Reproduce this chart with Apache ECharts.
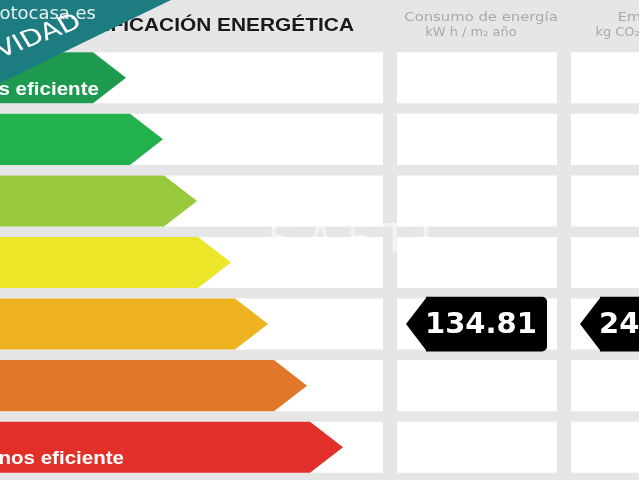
<!DOCTYPE html>
<html><head><meta charset="utf-8">
<script src="https://cdn.jsdelivr.net/npm/echarts@6/dist/echarts.min.js"></script>
<style>html,body{margin:0;padding:0;background:#e6e6e6}#c{width:639px;height:480px}</style>
</head><body><div id="c"></div>
<script>
// ---- data ----
const classes = ['A','B','C','D','E','F','G'];
const barLengths = [126, 163, 197, 231, 268, 307, 343];
const classLabels = ['Más eficiente','','','','','','Menos eficiente'];
const headerTitle = 'CALIFICACIÓN ENERGÉTICA';
const columnTitles = ['Consumo de energía', 'Emisiones'];
const columnUnits = ['kW h / m₂ año', 'kg CO₂ / m² año'];
const ratingClasses = ['E', 'E'];
const ratingValues = ['134.81', '24.58'];

// ---- styles / layout ----
const barColors = ['#1d9a50','#22b14c','#98c83b','#ebe627','#efb322','#e2772a','#e32f2a'];
const cellCols = [[-10, 383], [397, 557], [571, 731]];
const bandFill = 0.83;
const tipDepth = 33;

const chart = echarts.init(document.getElementById('c'));

const cellData = classes.map((c, i) => [0, i]);
const barData = barLengths.map((v, i) => [v, i]);
const tagData = ratingValues.map((v, k) => [cellCols[k + 1][0], classes.indexOf(ratingClasses[k]), v, cellCols[k + 1][1]]);

chart.setOption({
  backgroundColor: '#e6e6e6',
  animation: false,
  grid: { left: 0, right: 0, top: 47, bottom: 2 },
  xAxis: { type: 'value', min: 0, max: 639, show: false },
  yAxis: { type: 'category', data: classes, inverse: true, show: false },
  series: [
    {
      type: 'custom', z: 1,
      data: cellData,
      encode: { x: 0, y: 1 },
      renderItem(params, api) {
        const idx = api.value(1);
        const c = api.coord([0, idx]);
        const h = api.size([0, 1])[1] * bandFill;
        return {
          type: 'group',
          children: cellCols.map(col => {
            const x0 = api.coord([col[0], idx])[0];
            const x1 = api.coord([col[1], idx])[0];
            return { type: 'rect', shape: { x: x0, y: c[1] - h / 2, width: x1 - x0, height: h }, style: { fill: '#ffffff' } };
          })
        };
      }
    },
    {
      type: 'custom', z: 2,
      data: barData,
      encode: { x: 0, y: 1 },
      renderItem(params, api) {
        const idx = api.value(1);
        const p0 = api.coord([0, idx]);
        const p1 = api.coord([api.value(0), idx]);
        const h = api.size([0, 1])[1] * bandFill;
        const top = p0[1] - h / 2, bot = p0[1] + h / 2, cy = p0[1];
        const children = [{
          type: 'polygon',
          shape: { points: [[p0[0] - 10, top], [p1[0] - tipDepth, top], [p1[0], cy], [p1[0] - tipDepth, bot], [p0[0] - 10, bot]] },
          style: { fill: barColors[idx] }
        }];
        if (classLabels[idx]) {
          children.push({
            type: 'text', x: p0[0] - 30, y: cy + 11.5, scaleX: 1.08,
            style: { text: classLabels[idx], x: 0, y: 0, align: 'left', verticalAlign: 'middle',
              fill: '#ffffff', font: 'bold 19px "Liberation Sans"' }
          });
        }
        return { type: 'group', children };
      }
    },
    {
      type: 'custom', z: 3,
      data: tagData,
      encode: { x: 0, y: 1 },
      renderItem(params, api) {
        const idx = api.value(1);
        const p = api.coord([api.value(0), idx]);
        const pe = api.coord([api.value(3), idx]);
        const band = api.size([0, 1])[1];
        const cy = p[1];
        const hh = band * 0.445;
        const tip = p[0] + 9;
        const right = pe[0] - 10;
        const body = tip + 20;
        return {
          type: 'group',
          children: [
            { type: 'polygon', shape: { points: [[tip, cy], [body + 1, cy - hh], [body + 1, cy + hh]] }, style: { fill: '#000' } },
            { type: 'rect', shape: { x: body, y: cy - hh, width: right - body, height: hh * 2, r: [0, 5, 5, 0] }, style: { fill: '#000' } },
            { type: 'text', style: { text: String(api.value(2)), x: body - 1, y: cy + 1, align: 'left', verticalAlign: 'middle',
              fill: '#fff', font: 'bold 29px "DejaVu Sans"' } }
          ]
        };
      }
    }
  ],
  graphic: [
    { type: 'text', z: 100, x: 354, y: 26, scaleX: 1.16, style: { text: headerTitle, x: 0, y: 0, align: 'right', verticalAlign: 'middle', fill: '#1a1a1a', font: 'bold 18px "Liberation Sans"' } },
    { type: 'text', z: 100, x: 481, y: 18, scaleX: 1.14, style: { text: columnTitles[0], x: 0, y: 0, align: 'center', verticalAlign: 'middle', fill: '#a9a9a9', font: '13px "DejaVu Sans"' } },
    { type: 'text', z: 100, x: 471, y: 33, style: { text: columnUnits[0], x: 0, y: 0, align: 'center', verticalAlign: 'middle', fill: '#a9a9a9', font: '13px "DejaVu Sans"' } },
    { type: 'text', z: 100, x: 655, y: 18, scaleX: 1.14, style: { text: columnTitles[1], x: 0, y: 0, align: 'center', verticalAlign: 'middle', fill: '#a9a9a9', font: '13px "DejaVu Sans"' } },
    { type: 'text', z: 100, x: 647, y: 33, style: { text: columnUnits[1], x: 0, y: 0, align: 'center', verticalAlign: 'middle', fill: '#a9a9a9', font: '13px "DejaVu Sans"' } },
    { type: 'text', z: 100, style: { text: 'S A F T I', x: 350, y: 243, align: 'center', verticalAlign: 'middle', fill: 'rgba(255,255,255,0.5)', font: '40px "DejaVu Sans"' } },
    { type: 'polygon', zlevel: 1, z: 200, shape: { points: [[0, 0], [171, 0], [0, 83]] }, style: { fill: '#1d7c80' } },
    { type: 'group', zlevel: 1, z: 210, scaleX: 1.25, children: [
      { type: 'text', zlevel: 1, z: 210, x: 64, y: 21, rotation: 25.6 * Math.PI / 180, style: { text: 'EXCLUSIVIDAD', x: 0, y: 0, align: 'right', verticalAlign: 'middle', fill: '#ffffff', font: '23px "DejaVu Sans"' } }
    ]},
    { type: 'text', zlevel: 1, z: 220, style: { text: 'fotocasa.es', x: 96, y: 14, align: 'right', verticalAlign: 'middle', fill: 'rgba(255,255,255,0.9)', font: '18px "DejaVu Sans"' } }
  ]
});
</script>
</body></html>
